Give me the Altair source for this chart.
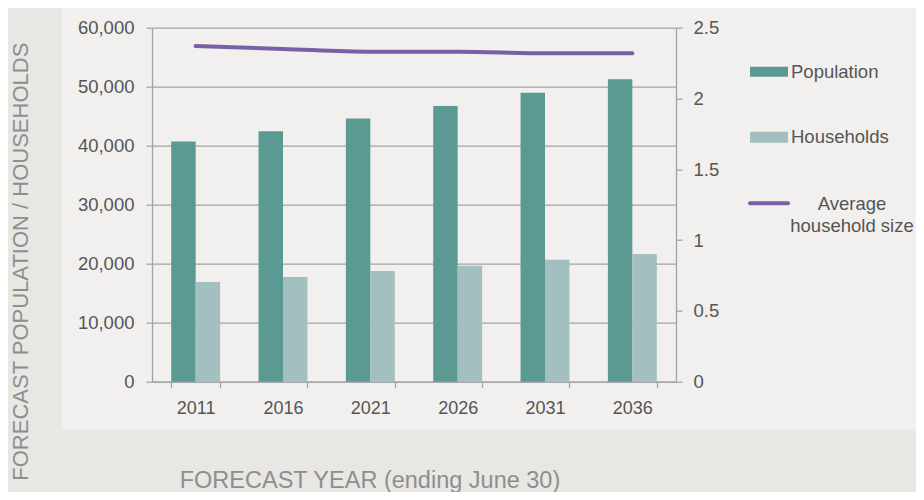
import altair as alt
import pandas as pd

# ---- data ----
years = ["2011", "2016", "2021", "2026", "2031", "2036"]
population = [40700, 42450, 44600, 46750, 48980, 51250]
households = [16900, 17750, 18750, 19650, 20650, 21650]
avg_household_size = [2.37, 2.35, 2.33, 2.33, 2.32, 2.32]

series_names = ["Population", "Households"]
series_colors = ["#5b9993", "#a4bfbf"]
line_label = ["Average", "household size"]
line_color = "#7a5fa6"

left_ticks = [0, 10000, 20000, 30000, 40000, 50000, 60000]
right_ticks = [0, 0.5, 1, 1.5, 2, 2.5]

x_title = "FORECAST YEAR (ending June 30)"
y_title = "FORECAST POPULATION / HOUSEHOLDS"

# ---- tables ----
bars_df = pd.DataFrame(
    {
        "year": years * 2,
        "series": [series_names[0]] * len(years) + [series_names[1]] * len(years),
        "value": population + households,
    }
)
line_df = pd.DataFrame({"year": years, "size": avg_household_size})

FONT = "Liberation Sans"
LABEL_COLOR = "#555555"
TITLE_COLOR = "#8e8e8e"
AXIS_COLOR = "#a3a3a3"
PANEL = "#f1f0ee"
OUTER = "#e8e7e4"

W, H = 524, 354

x_enc = alt.X(
    "year:N",
    sort=years,
    scale=alt.Scale(domain=years, paddingInner=0.44, paddingOuter=0.22),
    axis=alt.Axis(
        title="",
        labelAngle=0,
        labelFont=FONT,
        labelFontSize=18,
        labelColor=LABEL_COLOR,
        labelPadding=12,
        tickBand="extent",
        tickSize=6,
        tickColor=AXIS_COLOR,
        tickWidth=1.3,
        domainColor=AXIS_COLOR,
        domainWidth=1.3,
        grid=False,
    ),
)

bars = (
    alt.Chart(bars_df)
    .mark_bar(strokeWidth=0)
    .encode(
        x=x_enc,
        xOffset=alt.XOffset(
            "series:N",
            sort=series_names,
            scale=alt.Scale(domain=series_names, paddingInner=0, paddingOuter=0),
        ),
        y=alt.Y(
            "value:Q",
            scale=alt.Scale(domain=[0, 60000], nice=False),
            axis=alt.Axis(
                title="",
                values=left_ticks,
                labelExpr="format(datum.value, ',')",
                labelFont=FONT,
                labelFontSize=18.5,
                labelColor=LABEL_COLOR,
                labelPadding=12,
                tickSize=6,
                tickColor=AXIS_COLOR,
                tickWidth=1.3,
                domainColor=AXIS_COLOR,
                domainWidth=1.3,
                grid=True,
                gridColor=AXIS_COLOR,
                gridWidth=1.3,
            ),
        ),
        color=alt.Color(
            "series:N",
            scale=alt.Scale(domain=series_names, range=series_colors),
            legend=None,
        ),
    )
)

line = (
    alt.Chart(line_df)
    .mark_line(color=line_color, strokeWidth=4, strokeCap="round", interpolate="monotone")
    .encode(
        x=x_enc,
        y=alt.Y(
            "size:Q",
            scale=alt.Scale(domain=[0, 2.5], nice=False),
            axis=alt.Axis(
                title="",
                orient="right",
                values=right_ticks,
                labelExpr="format(datum.value, '')",
                labelFont=FONT,
                labelFontSize=18.5,
                labelColor=LABEL_COLOR,
                labelPadding=11,
                tickSize=6,
                tickColor=AXIS_COLOR,
                tickWidth=1.3,
                domainColor=AXIS_COLOR,
                domainWidth=1.3,
                grid=False,
            ),
        ),
    )
)

one = pd.DataFrame({"k": [0]})

# outer gray strips (outside the light panel)
left_strip = alt.Chart(one).mark_rect(color=OUTER).encode(
    x=alt.value(-150), x2=alt.value(-90), y=alt.value(-30), y2=alt.value(480)
)
bottom_strip = alt.Chart(one).mark_rect(color=OUTER).encode(
    x=alt.value(-150), x2=alt.value(780), y=alt.value(402), y2=alt.value(480)
)

# axis titles
y_title_mark = alt.Chart(pd.DataFrame({"t": [y_title]})).mark_text(
    angle=270, align="center", baseline="middle", font=FONT, fontSize=22, color=TITLE_COLOR
).encode(text="t:N", x=alt.value(-131), y=alt.value(234))
x_title_mark = alt.Chart(pd.DataFrame({"t": [x_title]})).mark_text(
    align="center", baseline="middle", font=FONT, fontSize=23.5, color=TITLE_COLOR
).encode(text="t:N", x=alt.value(218), y=alt.value(453))

# legend
pop_swatch = alt.Chart(one).mark_rect(color=series_colors[0]).encode(
    x=alt.value(598), x2=alt.value(636), y=alt.value(39), y2=alt.value(49)
)
hh_swatch = alt.Chart(one).mark_rect(color=series_colors[1]).encode(
    x=alt.value(598), x2=alt.value(636), y=alt.value(104), y2=alt.value(115)
)
line_swatch = alt.Chart(one).mark_rule(color=line_color, strokeWidth=4, strokeCap="round").encode(
    x=alt.value(598), x2=alt.value(636), y=alt.value(175.5)
)
legend_text_style = dict(baseline="middle", font=FONT, fontSize=18.5, color=LABEL_COLOR)
pop_text = alt.Chart(pd.DataFrame({"t": [series_names[0]]})).mark_text(
    align="left", **legend_text_style
).encode(text="t:N", x=alt.value(639), y=alt.value(44.5))
hh_text = alt.Chart(pd.DataFrame({"t": [series_names[1]]})).mark_text(
    align="left", **legend_text_style
).encode(text="t:N", x=alt.value(639), y=alt.value(109.5))
avg_text1 = alt.Chart(pd.DataFrame({"t": [line_label[0]]})).mark_text(
    align="center", **legend_text_style
).encode(text="t:N", x=alt.value(700), y=alt.value(176.5))
avg_text2 = alt.Chart(pd.DataFrame({"t": [line_label[1]]})).mark_text(
    align="center", **legend_text_style
).encode(text="t:N", x=alt.value(700), y=alt.value(198.5))

chart = (
    alt.layer(
        bars,
        line,
        left_strip,
        bottom_strip,
        y_title_mark,
        x_title_mark,
        pop_swatch,
        hh_swatch,
        line_swatch,
        pop_text,
        hh_text,
        avg_text1,
        avg_text2,
    )
    .resolve_scale(y="independent")
    .properties(
        width=W,
        height=H,
        background=PANEL,
        autosize=alt.AutoSizeParams(type="none"),
        padding={"left": 144, "top": 19.7, "right": 240, "bottom": 110.3},
    )
    .configure_view(strokeWidth=0)
)

chart.save("out.html", embed_options={"renderer": "svg", "actions": False})
